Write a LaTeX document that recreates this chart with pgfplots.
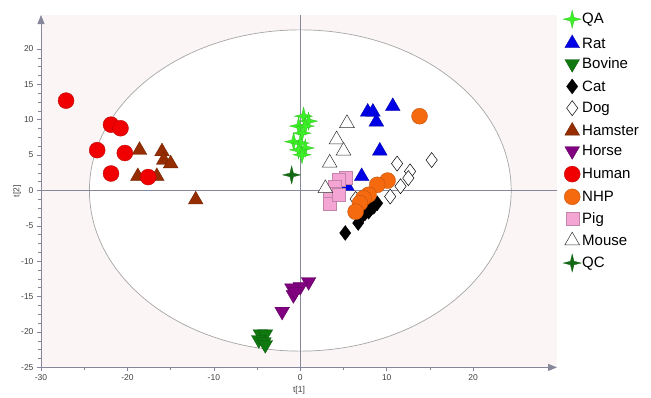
\documentclass[border=0pt]{standalone}
\usepackage{pgfplots}
\pgfplotsset{compat=1.18}
\usepackage{fontspec}
\setmainfont{Liberation Sans}
\usetikzlibrary{arrows.meta}
\definecolor{bgpink}{RGB}{251,245,245}
\definecolor{axgray}{RGB}{135,135,155}
\definecolor{qa}{RGB}{60,240,40}
\definecolor{rat}{RGB}{0,0,230}
\definecolor{bovine}{RGB}{15,120,15}
\definecolor{hamster}{RGB}{150,45,0}
\definecolor{horse}{RGB}{128,0,128}
\definecolor{human}{RGB}{240,0,0}
\definecolor{nhp}{RGB}{245,105,15}
\definecolor{pig}{RGB}{244,165,212}
\definecolor{qc}{RGB}{20,105,20}
\pgfdeclareplotmark{star4}{%
  \pgfpathmoveto{\pgfqpoint{0pt}{\pgfplotmarksize}}%
  \pgfpathlineto{\pgfqpoint{0.2\pgfplotmarksize}{0.2\pgfplotmarksize}}%
  \pgfpathlineto{\pgfqpoint{\pgfplotmarksize}{0pt}}%
  \pgfpathlineto{\pgfqpoint{0.2\pgfplotmarksize}{-0.2\pgfplotmarksize}}%
  \pgfpathlineto{\pgfqpoint{0pt}{-\pgfplotmarksize}}%
  \pgfpathlineto{\pgfqpoint{-0.2\pgfplotmarksize}{-0.2\pgfplotmarksize}}%
  \pgfpathlineto{\pgfqpoint{-\pgfplotmarksize}{0pt}}%
  \pgfpathlineto{\pgfqpoint{-0.2\pgfplotmarksize}{0.2\pgfplotmarksize}}%
  \pgfpathclose\pgfusepathqfillstroke}
\begin{document}
\begin{tikzpicture}
\useasboundingbox (-41pt,-29.6pt) rectangle (610pt,367.4pt);
\begin{axis}[
  at={(0,0)}, anchor=south west,
  scale only axis, width=516pt, height=352.4pt,
  xmin=-30, xmax=29.7, ymin=-25, ymax=24.8,
  axis lines=left,
  axis line style={axgray, line width=0.8pt, -{Triangle[length=9pt,width=7pt]}},
  axis background/.style={fill=bgpink},
  xtick={-30,-20,-10,0,10,20}, minor x tick num=1,
  ytick={-25,-20,-15,-10,-5,0,5,10,15,20}, minor y tick num=3,
  tick align=outside,
  major tick length=4pt, minor tick length=2.5pt,
  tick style={axgray, line width=0.6pt},
  /pgf/number format/assume math mode=true,
  ticklabel style={font=\fontsize{8.5}{10}\selectfont, text=black!75},
  xlabel={t[1]}, ylabel={t[2]},
  label style={font=\fontsize{8.5}{10}\selectfont, text=black!75},
  xlabel style={at={(axis description cs:0.5,0)}, anchor=north, yshift=-15pt},
  ylabel style={at={(axis description cs:-0.046,0.5)}, anchor=center},
  clip=false,
  legend style={at={(1,1)}, anchor=north west, xshift=6pt, yshift=5pt,
    draw=none, fill=none, font=\fontsize{15}{17}\selectfont,
    row sep=6.7pt, inner sep=0pt,
    nodes={inner sep=1pt, text depth=0.2ex}},
  legend cell align=left,
  legend image code/.code={\draw[#1] plot coordinates {(0.2cm,0cm)}; \path (0,0) (0.36cm,0);},
]
\fill[white, draw=gray!70, line width=0.7pt] (axis cs:0,0) ellipse [x radius=24.4, y radius=22.7];
\draw[axgray, line width=0.8pt] (axis cs:0,-25) -- (axis cs:0,24.8);
\draw[axgray, line width=0.8pt] (axis cs:-30,0) -- (axis cs:29.7,0);

\addplot[only marks, mark=star4, mark size=9pt, mark options={fill=qa, draw=qa!80!black, line width=0.3pt}] coordinates {
(0.38,10.5) (0.96,9.8) (-0.2,9.1) (0.58,9.1) (0.2,8.1) (-0.77,6.9) (0,6.7) (0.58,6.0) (-0.2,5.75) (0.2,5.05)};
\addlegendentry{QA}
\addplot[only marks, mark=triangle*, mark size=8.5pt, mark options={fill=rat, draw=rat!70!black, line width=0.3pt}] coordinates {
(7.8,11.1) (8.4,11.1) (10.7,11.9) (8.8,9.7) (9.2,5.6) (7.1,2.0) (5.4,0.6)};
\addlegendentry{Rat}
\addplot[only marks, mark=triangle*, mark size=8.5pt, mark options={rotate=180, fill=bovine, draw=bovine!70!black, line width=0.3pt}] coordinates {
(-4.6,-20.3) (-4.05,-20.3) (-4.8,-21.1) (-4.2,-21.4) (-4.05,-21.8)};
\addlegendentry{Bovine}
\addplot[only marks, mark=diamond*, mark size=7.5pt, mark options={fill=black, draw=black, line width=0.3pt}] coordinates {
(5.2,-6.0) (6.7,-4.6) (7.3,-3.4) (7.9,-3.0) (8.5,-2.3) (8.9,-1.8) (8.1,-2.7) (7.5,-3.2)};
\addlegendentry{Cat}
\addplot[only marks, mark=diamond*, mark size=7.5pt, mark options={fill=white, draw=black, line width=0.5pt}] coordinates {
(15.2,4.3) (11.2,3.8) (12.7,2.7) (12.5,1.75) (11.6,0.6) (10.4,-0.85) (6.4,-1.2)};
\addlegendentry{Dog}
\addplot[only marks, mark=triangle*, mark size=8.5pt, mark options={fill=hamster, draw=hamster!70!black, line width=0.3pt}] coordinates {
(-18.6,5.7) (-16.0,5.5) (-15.8,4.3) (-15.0,3.8) (-18.8,2.0) (-16.6,2.0) (-12.1,-1.3)};
\addlegendentry{Hamster}
\addplot[only marks, mark=triangle*, mark size=8.5pt, mark options={rotate=180, fill=horse, draw=horse!70!black, line width=0.3pt}] coordinates {
(0.96,-12.9) (0,-13.6) (-0.96,-13.8) (-0.8,-14.75) (-2.1,-17.1) (-0.6,-14.3)};
\addlegendentry{Horse}
\addplot[only marks, mark=*, mark size=8pt, mark options={fill=human, draw=human!75!black, line width=0.3pt}] coordinates {
(-27.1,12.7) (-21.9,9.3) (-20.8,8.8) (-23.5,5.7) (-20.3,5.3) (-21.9,2.4) (-17.6,1.9)};
\addlegendentry{Human}
\addplot[only marks, mark=*, mark size=8pt, mark options={fill=nhp, draw=nhp!75!black, line width=0.3pt}] coordinates {
(13.8,10.5) (10.1,1.4) (8.9,0.8) (7.9,-0.6) (7.3,-1.1) (6.9,-1.8) (6.4,-3.0)};
\addlegendentry{NHP}
\addplot[only marks, mark=square*, mark size=6.5pt, mark options={fill=pig, draw=pig!80!black, line width=0.4pt}] coordinates {
(5.2,1.75) (4.5,1.5) (4.0,0.6) (3.85,-0.4) (3.4,-1.1) (3.4,-1.8) (4.4,-0.6)};
\addlegendentry{Pig}
\addplot[only marks, mark=triangle*, mark size=8.5pt, mark options={fill=white, draw=black!80, line width=0.5pt}] coordinates {
(5.4,9.5) (4.2,7.2) (5.0,5.6) (3.4,3.9) (2.9,0.3)};
\addlegendentry{Mouse}
\addplot[only marks, mark=star4, mark size=9pt, mark options={fill=qc, draw=qc, line width=0.3pt}] coordinates {
(-1.0,2.2)};
\addlegendentry{QC}
\end{axis}
\end{tikzpicture}
\end{document}
